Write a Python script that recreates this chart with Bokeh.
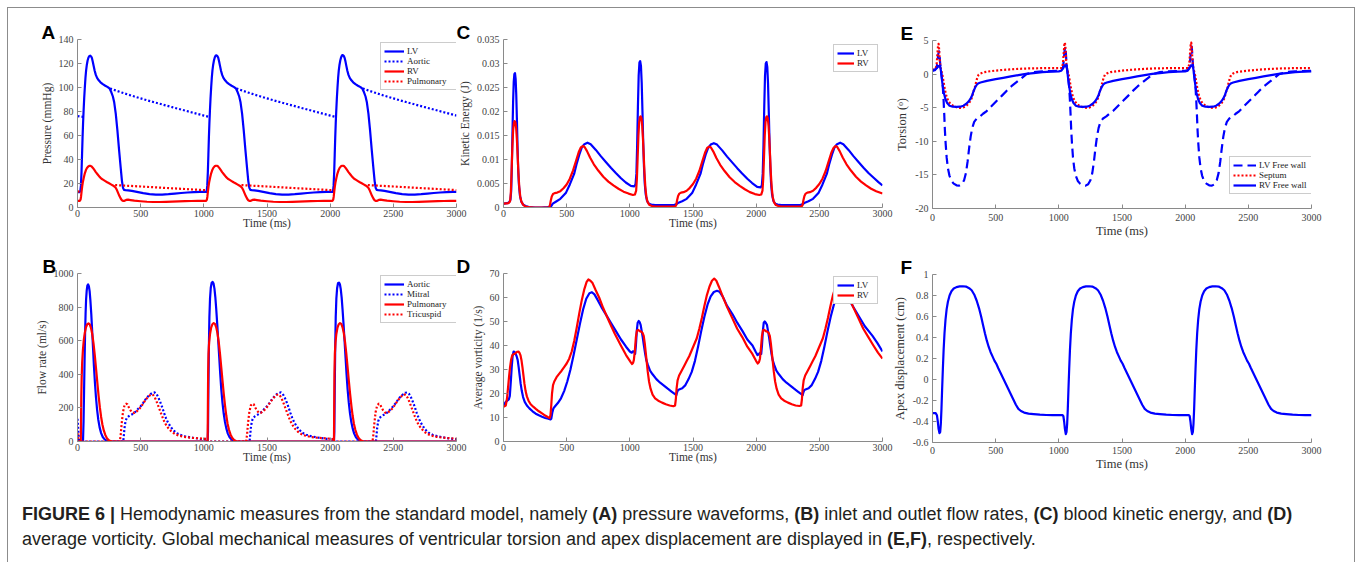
import numpy as np
from bokeh.plotting import figure
from bokeh.models import (Range1d, FixedTicker, PrintfTickFormatter, Legend, LegendItem, Div)
from bokeh.layouts import column
from bokeh.embed import file_html
from bokeh.resources import INLINE

# ---------------------------------------------------------------- data
TIME_TICKS = [0, 500, 1000, 1500, 2000, 2500, 3000]

# (A) pressure waveforms, mmHg
PRESSURE_TICKS = [0, 20, 40, 60, 80, 100, 120, 140]
lv_pressure = [
    (0, 12.8), (15, 12.8), (22, 13.5), (27, 18), (32, 30), (36, 44), (40, 58), (44, 70), (48, 80), (53, 91),
    (58, 100), (63, 108), (68, 114), (74, 119), (80, 122.5), (87, 125), (94, 126.3), (100, 126.5), (107, 126),
    (114, 124.5), (121, 121.5), (128, 118), (136, 114), (145, 110.5), (155, 108), (168, 106), (182, 104.3),
    (200, 102.8), (220, 101.5), (240, 100.3), (255, 99), (268, 96), (280, 92.5), (290, 88), (303, 78), (316, 64),
    (329, 48), (342, 33), (352, 22), (360, 16.5), (368, 14.7), (380, 14.5), (400, 14.3), (430, 13.8), (470, 13),
    (520, 12), (570, 11.2), (620, 10.8), (670, 10.8), (720, 11.1), (770, 11.6), (820, 12.1), (870, 12.5),
    (920, 12.8), (970, 13),
    (1022, 13.1), (1027, 18), (1032, 30), (1036, 44), (1040, 58), (1044, 70), (1048, 80), (1053, 91), (1058, 100),
    (1063, 108), (1068, 114), (1074, 119), (1080, 122.5), (1087, 125.2), (1094, 126.6), (1100, 126.8),
    (1107, 126.2), (1114, 124.7), (1121, 121.7), (1128, 118), (1136, 114), (1145, 110.5), (1155, 108),
    (1168, 106), (1182, 104.3), (1200, 102.8), (1220, 101.5), (1240, 100.3), (1255, 99), (1268, 96),
    (1280, 92.5), (1290, 88), (1303, 78), (1316, 64), (1329, 48), (1342, 33), (1352, 22), (1360, 16.5),
    (1368, 14.7), (1380, 14.5), (1400, 14.3), (1430, 13.8), (1470, 13), (1520, 12), (1570, 11.2), (1620, 10.8),
    (1670, 10.8), (1720, 11.1), (1770, 11.6), (1820, 12.1), (1870, 12.5), (1920, 12.8), (1970, 13),
    (2022, 13.1), (2027, 18), (2032, 30), (2036, 44), (2040, 58), (2044, 70), (2048, 80), (2053, 91), (2058, 100),
    (2063, 108), (2068, 114), (2074, 119), (2080, 122.5), (2087, 125.3), (2094, 126.8), (2100, 127),
    (2107, 126.4), (2114, 124.8), (2121, 121.8), (2128, 118), (2136, 114), (2145, 110.5), (2155, 108),
    (2168, 106), (2182, 104.3), (2200, 102.8), (2220, 101.5), (2240, 100.3), (2255, 99), (2268, 96),
    (2280, 92.5), (2290, 88), (2303, 78), (2316, 64), (2329, 48), (2342, 33), (2352, 22), (2360, 16.5),
    (2368, 14.7), (2380, 14.5), (2400, 14.3), (2430, 13.8), (2470, 13), (2520, 12), (2570, 11.2), (2620, 10.8),
    (2670, 10.8), (2720, 11.1), (2770, 11.6), (2820, 12.1), (2870, 12.5), (2920, 12.8), (2970, 13), (3000, 13.1)]

aortic_pressure = [
    (0, 76.2), (15, 76), (30, 75.7), (44, 75.5), None,
    (258, 99.2), (300, 97.6), (350, 95.8), (400, 94.1), (450, 92.5), (500, 90.9), (550, 89.4), (600, 87.9),
    (650, 86.5), (700, 85), (750, 83.6), (800, 82.2), (850, 80.8), (900, 79.4), (950, 78), (1000, 76.6),
    (1044, 75.4), None,
    (1258, 99.2), (1300, 97.6), (1350, 95.8), (1400, 94.1), (1450, 92.5), (1500, 90.9), (1550, 89.4),
    (1600, 87.9), (1650, 86.5), (1700, 85), (1750, 83.6), (1800, 82.2), (1850, 80.8), (1900, 79.4), (1950, 78),
    (2000, 76.6), (2044, 75.4), None,
    (2258, 99.2), (2300, 97.6), (2350, 95.8), (2400, 94.1), (2450, 92.5), (2500, 90.9), (2550, 89.4),
    (2600, 87.9), (2650, 86.5), (2700, 85), (2750, 83.6), (2800, 82.2), (2850, 80.8), (2900, 79.4), (2950, 78),
    (3000, 76.6)]

rv_pressure = [
    (0, 5.6), (18, 5.6), (24, 6.5), (28, 9), (32, 13), (37, 17.5), (43, 21.5), (50, 25), (58, 28.5), (66, 31),
    (75, 33), (85, 34.2), (95, 34.7), (103, 34.7), (112, 34.2), (122, 33), (132, 31.5), (145, 29.5), (160, 27.5),
    (175, 25.5), (190, 24), (205, 23), (220, 22), (235, 21), (250, 20.2), (265, 19.3), (280, 18.4), (292, 17.5),
    (302, 16.5), (312, 14.5), (322, 12), (332, 9.5), (342, 7.5), (352, 6), (362, 5.5), (372, 5.6), (385, 6.3),
    (400, 6.5), (420, 6.2), (450, 5.7), (500, 5.2), (550, 4.8), (600, 4.6), (650, 4.6), (700, 4.7), (750, 4.9),
    (800, 5.1), (850, 5.3), (900, 5.4), (950, 5.5), (1000, 5.6),
    (1018, 5.6), (1024, 6.5), (1028, 9), (1032, 13), (1037, 17.5), (1043, 21.5), (1050, 25), (1058, 28.5),
    (1066, 31), (1075, 33), (1085, 34.3), (1095, 34.8), (1103, 34.8), (1112, 34.3), (1122, 33), (1132, 31.5),
    (1145, 29.5), (1160, 27.5), (1175, 25.5), (1190, 24), (1205, 23), (1220, 22), (1235, 21), (1250, 20.2),
    (1265, 19.3), (1280, 18.4), (1292, 17.5), (1302, 16.5), (1312, 14.5), (1322, 12), (1332, 9.5), (1342, 7.5),
    (1352, 6), (1362, 5.5), (1372, 5.6), (1385, 6.3), (1400, 6.5), (1420, 6.2), (1450, 5.7), (1500, 5.2),
    (1550, 4.8), (1600, 4.6), (1650, 4.6), (1700, 4.7), (1750, 4.9), (1800, 5.1), (1850, 5.3), (1900, 5.4),
    (1950, 5.5), (2000, 5.6),
    (2018, 5.6), (2024, 6.5), (2028, 9), (2032, 13), (2037, 17.5), (2043, 21.5), (2050, 25), (2058, 28.5),
    (2066, 31), (2075, 33), (2085, 34.3), (2095, 34.8), (2103, 34.8), (2112, 34.3), (2122, 33), (2132, 31.5),
    (2145, 29.5), (2160, 27.5), (2175, 25.5), (2190, 24), (2205, 23), (2220, 22), (2235, 21), (2250, 20.2),
    (2265, 19.3), (2280, 18.4), (2292, 17.5), (2302, 16.5), (2312, 14.5), (2322, 12), (2332, 9.5), (2342, 7.5),
    (2352, 6), (2362, 5.5), (2372, 5.6), (2385, 6.3), (2400, 6.5), (2420, 6.2), (2450, 5.7), (2500, 5.2),
    (2550, 4.8), (2600, 4.6), (2650, 4.6), (2700, 4.7), (2750, 4.9), (2800, 5.1), (2850, 5.3), (2900, 5.4),
    (2950, 5.5), (3000, 5.6)]

pulmonary_pressure = [
    (0, 13.4), (15, 13.3), (30, 13.2), None,
    (298, 18.7), (350, 18.4), (400, 18.1), (450, 17.8), (500, 17.5), (550, 17.2), (600, 16.9), (650, 16.6),
    (700, 16.3), (750, 16), (800, 15.7), (850, 15.4), (900, 15.1), (950, 14.8), (1000, 14.5), (1033, 14.3), None,
    (1298, 18.7), (1350, 18.4), (1400, 18.1), (1450, 17.8), (1500, 17.5), (1550, 17.2), (1600, 16.9),
    (1650, 16.6), (1700, 16.3), (1750, 16), (1800, 15.7), (1850, 15.4), (1900, 15.1), (1950, 14.8), (2000, 14.5),
    (2033, 14.3), None,
    (2298, 18.7), (2350, 18.4), (2400, 18.1), (2450, 17.8), (2500, 17.5), (2550, 17.2), (2600, 16.9),
    (2650, 16.6), (2700, 16.3), (2750, 16), (2800, 15.7), (2850, 15.4), (2900, 15.1), (2950, 14.8), (3000, 14.5)]

# (B) valve flow rates, ml/s
FLOW_TICKS = [0, 200, 400, 600, 800, 1000]
aortic_flow = [
    (0, 0), (40, 0), (44, 10), (48, 120), (52, 300), (56, 480), (60, 640), (64, 760), (68, 845), (73, 900),
    (78, 928), (84, 935), (90, 925), (96, 895), (102, 840), (109, 760), (116, 660), (123, 555), (130, 450),
    (138, 350), (146, 265), (155, 190), (165, 128), (175, 84), (187, 50), (200, 27), (215, 13), (230, 5),
    (245, 1), (258, 0),
    (1030, 0), (1033, 60), (1036, 300), (1040, 560), (1044, 740), (1049, 850), (1055, 915), (1062, 945),
    (1070, 950), (1077, 940), (1084, 910), (1091, 860), (1098, 790), (1106, 700), (1114, 600), (1122, 500),
    (1130, 400), (1138, 312), (1147, 235), (1157, 168), (1167, 118), (1178, 78), (1190, 47), (1204, 25),
    (1220, 11), (1236, 4), (1250, 0),
    (2030, 0), (2033, 60), (2036, 300), (2040, 560), (2044, 740), (2049, 850), (2055, 912), (2062, 942),
    (2070, 946), (2077, 936), (2084, 906), (2091, 856), (2098, 786), (2106, 697), (2114, 598), (2122, 498),
    (2130, 398), (2138, 311), (2147, 234), (2157, 167), (2167, 117), (2178, 78), (2190, 47), (2204, 25),
    (2220, 11), (2236, 4), (2250, 0), (3000, 0)]

mitral_flow = [
    (0, 135), (4, 95), (8, 45), (12, 12), (16, 0),
    (362, 0), (366, 30), (372, 80), (380, 120), (390, 140), (405, 150), (420, 157), (440, 165), (460, 178),
    (480, 195), (500, 210), (520, 230), (540, 252), (560, 270), (580, 283), (595, 290), (610, 292), (625, 283),
    (640, 262), (655, 235), (670, 205), (685, 170), (700, 140), (715, 115), (735, 90), (755, 70), (780, 52),
    (810, 40), (850, 31), (890, 25), (930, 20), (970, 16), (1000, 14), (1022, 12), (1027, 0),
    (1362, 0), (1366, 30), (1372, 80), (1380, 120), (1390, 140), (1405, 150), (1420, 157), (1440, 165),
    (1460, 178), (1480, 195), (1500, 210), (1520, 230), (1540, 252), (1560, 270), (1580, 283), (1595, 290),
    (1610, 292), (1625, 283), (1640, 262), (1655, 235), (1670, 205), (1685, 170), (1700, 140), (1715, 115),
    (1735, 90), (1755, 70), (1780, 52), (1810, 40), (1850, 31), (1890, 25), (1930, 20), (1970, 16), (2000, 14),
    (2022, 12), (2027, 0),
    (2362, 0), (2366, 30), (2372, 80), (2380, 120), (2390, 140), (2405, 150), (2420, 157), (2440, 165),
    (2460, 178), (2480, 195), (2500, 210), (2520, 230), (2540, 252), (2560, 270), (2580, 283), (2595, 290),
    (2610, 292), (2625, 283), (2640, 262), (2655, 235), (2670, 205), (2685, 170), (2700, 140), (2715, 115),
    (2735, 90), (2755, 70), (2780, 52), (2810, 40), (2850, 31), (2890, 25), (2930, 20), (2970, 16), (3000, 14)]

pulmonary_flow = [
    (0, 0), (26, 0), (28, 120), (30, 260), (33, 380), (37, 470), (43, 545), (50, 605), (58, 648), (67, 680),
    (77, 698), (87, 703), (97, 697), (107, 675), (117, 638), (127, 583), (137, 512), (147, 432), (157, 350),
    (167, 272), (177, 203), (187, 146), (197, 101), (208, 66), (220, 39), (233, 20), (248, 8), (262, 2), (275, 0),
    (1030, 0), (1032, 200), (1034, 400), (1037, 520), (1042, 590), (1049, 640), (1058, 678), (1068, 698),
    (1078, 705), (1088, 700), (1098, 680), (1108, 645), (1118, 592), (1128, 522), (1138, 442), (1148, 360),
    (1158, 282), (1168, 212), (1178, 153), (1188, 106), (1199, 70), (1211, 42), (1224, 22), (1239, 9),
    (1254, 3), (1268, 0),
    (2030, 0), (2032, 200), (2034, 400), (2037, 520), (2042, 590), (2049, 640), (2058, 678), (2068, 698),
    (2078, 705), (2088, 700), (2098, 680), (2108, 645), (2118, 592), (2128, 522), (2138, 442), (2148, 360),
    (2158, 282), (2168, 212), (2178, 153), (2188, 106), (2199, 70), (2211, 42), (2224, 22), (2239, 9),
    (2254, 3), (2268, 0), (3000, 0)]

tricuspid_flow = [
    (0, 50), (5, 20), (10, 0),
    (335, 0), (342, 40), (350, 110), (360, 175), (372, 215), (385, 225), (395, 222), (405, 205), (420, 185),
    (435, 172), (450, 170), (470, 180), (490, 195), (510, 215), (530, 238), (550, 258), (565, 270), (578, 278),
    (590, 280), (600, 276), (612, 262), (625, 240), (640, 210), (655, 180), (670, 150), (685, 122), (700, 100),
    (720, 78), (745, 58), (770, 45), (800, 36), (840, 28), (880, 24), (920, 21), (960, 19), (1000, 17),
    (1020, 15), (1024, 0),
    (1335, 0), (1342, 40), (1350, 110), (1360, 175), (1372, 215), (1385, 225), (1395, 222), (1405, 205),
    (1420, 185), (1435, 172), (1450, 170), (1470, 180), (1490, 195), (1510, 215), (1530, 238), (1550, 258),
    (1565, 270), (1578, 278), (1590, 280), (1600, 276), (1612, 262), (1625, 240), (1640, 210), (1655, 180),
    (1670, 150), (1685, 122), (1700, 100), (1720, 78), (1745, 58), (1770, 45), (1800, 36), (1840, 28),
    (1880, 24), (1920, 21), (1960, 19), (2000, 17), (2020, 15), (2024, 0),
    (2335, 0), (2342, 40), (2350, 110), (2360, 175), (2372, 215), (2385, 225), (2395, 222), (2405, 205),
    (2420, 185), (2435, 172), (2450, 170), (2470, 180), (2490, 195), (2510, 215), (2530, 238), (2550, 258),
    (2565, 270), (2578, 278), (2590, 280), (2600, 276), (2612, 262), (2625, 240), (2640, 210), (2655, 180),
    (2670, 150), (2685, 122), (2700, 100), (2720, 78), (2745, 58), (2770, 45), (2800, 36), (2840, 28),
    (2880, 24), (2920, 21), (2960, 19), (3000, 16)]

# (C) blood kinetic energy, J
ENERGY_TICKS = [0, 0.005, 0.01, 0.015, 0.02, 0.025, 0.03, 0.035]
lv_energy = [
    (0, 0.0008), (30, 0.0009), (45, 0.0011), (55, 0.0016), (61, 0.0035), (66, 0.0085), (71, 0.0155),
    (76, 0.022), (81, 0.0262), (86, 0.0278), (91, 0.028), (96, 0.0268), (101, 0.0235), (106, 0.0185),
    (111, 0.0128), (116, 0.0082), (122, 0.0048), (130, 0.0025), (140, 0.0013), (155, 0.0006), (175, 0.0003),
    (200, 0.0001), (250, 0.0), (300, 0.0), (350, 0.0001), (375, 0.0002), (390, 0.0008), (414, 0.0012),
    (450, 0.0018), (493, 0.003), (525, 0.0048), (559, 0.007), (580, 0.0092), (600, 0.011), (620, 0.0125),
    (640, 0.0132), (665, 0.0135), (690, 0.0132), (731, 0.012), (770, 0.0107), (810, 0.0095), (850, 0.0083),
    (889, 0.0072), (930, 0.0061), (968, 0.0052), (1008, 0.0045), (1035, 0.0044),
    (1045, 0.0048), (1052, 0.007), (1058, 0.013), (1064, 0.021), (1070, 0.0275), (1076, 0.0302),
    (1082, 0.0305), (1088, 0.0295), (1094, 0.026), (1100, 0.02), (1106, 0.0135), (1112, 0.0085),
    (1118, 0.005), (1126, 0.0027), (1136, 0.0014), (1150, 0.0008), (1170, 0.0006), (1200, 0.0005),
    (1250, 0.0005), (1300, 0.0005), (1350, 0.0005), (1370, 0.0007), (1385, 0.001), (1414, 0.0013),
    (1450, 0.0018), (1493, 0.003), (1525, 0.0048), (1559, 0.007), (1580, 0.0092), (1600, 0.011),
    (1620, 0.0124), (1640, 0.0131), (1665, 0.0134), (1690, 0.0131), (1731, 0.0119), (1770, 0.0106),
    (1810, 0.0094), (1850, 0.0082), (1889, 0.0071), (1930, 0.006), (1968, 0.0051), (2008, 0.0043),
    (2035, 0.0042),
    (2045, 0.0046), (2052, 0.007), (2058, 0.013), (2064, 0.021), (2070, 0.0274), (2076, 0.03), (2082, 0.0303),
    (2088, 0.0293), (2094, 0.0258), (2100, 0.0198), (2106, 0.0134), (2112, 0.0085), (2118, 0.005),
    (2126, 0.0027), (2136, 0.0014), (2150, 0.0008), (2170, 0.0006), (2200, 0.0005), (2250, 0.0005),
    (2300, 0.0005), (2350, 0.0005), (2370, 0.0007), (2385, 0.001), (2414, 0.0013), (2450, 0.0018),
    (2493, 0.003), (2525, 0.0048), (2559, 0.007), (2580, 0.0092), (2600, 0.011), (2620, 0.0125),
    (2640, 0.0132), (2665, 0.0135), (2690, 0.0132), (2731, 0.012), (2770, 0.0107), (2810, 0.0095),
    (2850, 0.0083), (2889, 0.0072), (2930, 0.0062), (2968, 0.0053), (3000, 0.0046)]

rv_energy = [
    (0, 0.0008), (40, 0.0009), (52, 0.0013), (58, 0.003), (64, 0.0075), (70, 0.0125), (76, 0.016),
    (82, 0.0176), (88, 0.018), (94, 0.0178), (100, 0.0166), (106, 0.0142), (112, 0.0108), (118, 0.0072),
    (125, 0.0042), (133, 0.0022), (143, 0.0011), (158, 0.0005), (175, 0.0002), (200, 0.0001), (240, 0.0),
    (300, 0.0), (360, 0.0), (367, 0.0004), (374, 0.0014), (382, 0.0023), (392, 0.0028), (405, 0.003),
    (425, 0.0031), (450, 0.0034), (475, 0.004), (500, 0.0048), (525, 0.006), (550, 0.0077), (575, 0.0098),
    (595, 0.0115), (612, 0.0125), (628, 0.0128), (642, 0.0126), (660, 0.0118), (685, 0.0104), (715, 0.009),
    (750, 0.0077), (790, 0.0064), (830, 0.0054), (870, 0.0046), (910, 0.0039), (950, 0.0033), (990, 0.0029),
    (1025, 0.0026),
    (1040, 0.0027), (1050, 0.0035), (1056, 0.006), (1062, 0.0105), (1068, 0.015), (1074, 0.0178),
    (1080, 0.0188), (1086, 0.019), (1092, 0.0186), (1098, 0.017), (1104, 0.0143), (1110, 0.0108),
    (1116, 0.0072), (1123, 0.0042), (1131, 0.0022), (1141, 0.0011), (1156, 0.0005), (1175, 0.0003),
    (1200, 0.0002), (1300, 0.0002), (1360, 0.0002), (1367, 0.0005), (1374, 0.0015), (1382, 0.0024),
    (1392, 0.0029), (1405, 0.0031), (1425, 0.0032), (1450, 0.0035), (1475, 0.0041), (1500, 0.0049),
    (1525, 0.006), (1550, 0.0076), (1575, 0.0097), (1595, 0.0114), (1612, 0.0124), (1628, 0.0127),
    (1642, 0.0125), (1660, 0.0117), (1685, 0.0103), (1715, 0.0089), (1750, 0.0076), (1790, 0.0063),
    (1830, 0.0053), (1870, 0.0045), (1910, 0.0038), (1950, 0.0032), (1990, 0.0028), (2025, 0.0026),
    (2040, 0.0027), (2050, 0.0035), (2056, 0.006), (2062, 0.0105), (2068, 0.015), (2074, 0.0178),
    (2080, 0.0188), (2086, 0.019), (2092, 0.0186), (2098, 0.017), (2104, 0.0143), (2110, 0.0108),
    (2116, 0.0072), (2123, 0.0042), (2131, 0.0022), (2141, 0.0011), (2156, 0.0005), (2175, 0.0003),
    (2200, 0.0002), (2300, 0.0002), (2360, 0.0002), (2367, 0.0005), (2374, 0.0015), (2382, 0.0024),
    (2392, 0.0029), (2405, 0.0031), (2425, 0.0032), (2450, 0.0035), (2475, 0.0041), (2500, 0.0049),
    (2525, 0.006), (2550, 0.0076), (2575, 0.0097), (2595, 0.0114), (2612, 0.0124), (2628, 0.0128),
    (2642, 0.0126), (2660, 0.0118), (2685, 0.0104), (2715, 0.009), (2750, 0.0077), (2790, 0.0064),
    (2830, 0.0054), (2870, 0.0046), (2910, 0.0039), (2950, 0.0034), (3000, 0.0029)]

# (D) average vorticity, 1/s
VORTICITY_TICKS = [0, 10, 20, 30, 40, 50, 60, 70]
lv_vorticity = [
    (0, 15), (18, 16.5), (42, 17.5), (50, 19), (58, 25), (65, 31), (72, 35.5), (80, 37.5), (88, 37.3),
    (96, 36.5), (104, 35.5), (112, 34), (120, 31), (128, 27.5), (136, 24), (145, 21), (155, 18.5), (168, 16.5),
    (185, 15), (205, 13.8), (230, 12.6), (255, 11.6), (280, 10.9), (305, 10.3), (330, 9.8), (355, 9.5),
    (372, 9.2), (378, 9.5), (386, 12), (395, 13.8), (410, 14.8), (430, 16), (455, 18), (480, 21), (505, 25),
    (530, 30), (555, 36), (580, 42.5), (605, 49), (630, 55), (655, 59.5), (680, 61.8), (700, 62.2),
    (720, 61.3), (745, 59), (775, 56), (810, 53), (850, 49.5), (890, 46), (930, 42.5), (970, 39.5),
    (1000, 37.5), (1015, 37), (1025, 37.6), (1035, 37.5), (1042, 36.5), (1048, 40), (1055, 46), (1062, 49.5),
    (1070, 50.2), (1078, 49.7), (1086, 48.5), (1094, 46), (1102, 43.5), (1110, 40.5), (1120, 37), (1130, 34),
    (1142, 32), (1160, 29.5), (1180, 28), (1210, 26), (1240, 24.5), (1270, 23.3), (1300, 22), (1330, 20.8),
    (1355, 19.8), (1368, 19.3), (1374, 20.5), (1382, 21.5), (1395, 21.8), (1415, 22.2), (1440, 23.5),
    (1465, 26), (1490, 29), (1515, 33.5), (1540, 39.5), (1565, 46), (1590, 52), (1615, 57), (1640, 60.5),
    (1665, 62.3), (1690, 62.8), (1710, 62.4), (1734, 60.5), (1770, 56.5), (1813, 53), (1850, 49.5),
    (1892, 46), (1930, 42.5), (1971, 40), (1995, 37.5), (2011, 36), (2022, 36.5), (2032, 37), (2040, 36.5),
    (2046, 40), (2053, 46), (2060, 49.5), (2068, 50), (2076, 49.5), (2086, 48.5), (2094, 46), (2102, 43.5),
    (2110, 40.5), (2120, 37), (2130, 34), (2142, 32), (2160, 29.5), (2180, 28), (2210, 26), (2240, 24.5),
    (2270, 23.3), (2300, 22), (2330, 20.8), (2355, 19.8), (2368, 19.3), (2374, 20.5), (2382, 21.5),
    (2395, 21.8), (2415, 22.2), (2440, 23.5), (2465, 26), (2490, 29), (2515, 33.5), (2540, 39.5), (2565, 46),
    (2590, 52), (2615, 57), (2640, 60.5), (2665, 62.2), (2690, 62.6), (2710, 62), (2736, 59), (2775, 55.5),
    (2815, 52), (2860, 48), (2921, 44), (2960, 41), (3000, 37.5)]

rv_vorticity = [
    (0, 14.5), (18, 15), (28, 18), (36, 22.5), (44, 27), (52, 31), (60, 34), (70, 36), (80, 36.4), (90, 36.6),
    (100, 37), (110, 37.4), (118, 37.5), (126, 37), (134, 36), (142, 34), (150, 31), (158, 27.5), (166, 24),
    (175, 21), (185, 18.8), (198, 17), (215, 15.5), (235, 14.5), (258, 13.5), (280, 12.6), (305, 11.7),
    (330, 10.8), (350, 10.2), (365, 9.8), (372, 11), (378, 15), (384, 20), (392, 23.5), (402, 25), (420, 26.8),
    (440, 28.2), (460, 29.5), (480, 31), (500, 32.5), (520, 34.5), (540, 37.5), (560, 42), (580, 47.5),
    (600, 53.5), (620, 59), (640, 63.5), (658, 66.5), (672, 67.5), (688, 67), (705, 66), (730, 63),
    (757, 60), (790, 55.5), (836, 50), (880, 45), (929, 40), (970, 36), (1008, 33), (1018, 32.3),
    (1026, 32.8), (1032, 34), (1040, 38), (1048, 43.5), (1056, 46.2), (1066, 46.5), (1078, 46), (1090, 45.8),
    (1100, 45.3), (1110, 44), (1118, 41), (1126, 37), (1134, 33), (1142, 29), (1152, 25), (1164, 22),
    (1180, 19.5), (1200, 18), (1225, 17), (1255, 16.2), (1285, 15.5), (1315, 15), (1345, 14.7), (1358, 15),
    (1364, 17.5), (1370, 22), (1378, 25.5), (1390, 27.5), (1410, 29.5), (1430, 31.5), (1450, 33.5),
    (1470, 35.5), (1490, 38), (1510, 40.5), (1530, 43), (1550, 47), (1570, 51.5), (1590, 56.5), (1610, 61),
    (1630, 64.5), (1650, 67), (1668, 67.9), (1685, 67), (1705, 64.5), (1735, 60.5), (1770, 56), (1810, 51.5),
    (1850, 47), (1890, 43.5), (1930, 39.5), (1970, 36.5), (2000, 33.5), (2012, 32.5), (2022, 33),
    (2030, 34.5), (2038, 39), (2046, 44), (2054, 46.3), (2064, 46.5), (2076, 46), (2088, 45.8), (2098, 45.3),
    (2108, 44), (2116, 41), (2124, 37), (2132, 33), (2140, 29), (2150, 25), (2162, 22), (2178, 19.5),
    (2198, 18), (2222, 17), (2252, 16.2), (2282, 15.5), (2312, 15), (2342, 14.8), (2356, 15), (2362, 17.5),
    (2368, 22), (2376, 25.5), (2388, 27.5), (2408, 29.5), (2428, 31.5), (2448, 33.5), (2468, 35.5),
    (2488, 38), (2508, 40.5), (2528, 43), (2548, 47), (2568, 51.5), (2588, 56.5), (2608, 61), (2628, 64.5),
    (2648, 67), (2666, 67.9), (2683, 67), (2703, 64.5), (2733, 60.5), (2768, 56), (2808, 51.5), (2848, 47),
    (2888, 43.5), (2928, 40), (2964, 37), (3000, 34.5)]

# (E) torsion, degrees
TORSION_TICKS = [-20, -15, -10, -5, 0, 5]
lv_free_wall = [
    (0, 0.5), (20, 0.6), (33, 1), (40, 2), (46, 3), (52, 3.4), (57, 2.6), (62, 1.2), (67, 0.6), (74, -0.4),
    (82, -2), (88, -4), (93, -6), (98, -8.3), (104, -10.3), (112, -12.4), (122, -14), (134, -15.1),
    (150, -15.9), (168, -16.3), (190, -16.55), (212, -16.6), (232, -16.4), (250, -15.8), (265, -14.7),
    (278, -13), (290, -11), (302, -9.3), (315, -8), (330, -7.1), (350, -6.6), (376, -6.3), (400, -5.9),
    (429, -5.5), (470, -4.7), (507, -4), (550, -3.2), (586, -2.5), (625, -1.8), (665, -1.2), (705, -0.6),
    (744, 0), (800, 0.3), (870, 0.4), (940, 0.45), (1000, 0.5),
    (1020, 0.6), (1033, 1), (1040, 2.2), (1046, 3.6), (1052, 4.1), (1057, 2.8), (1062, 1.2), (1067, 0.6),
    (1074, -0.4), (1082, -2), (1088, -4), (1093, -6), (1098, -8.3), (1104, -10.3), (1112, -12.4),
    (1122, -14), (1134, -15.1), (1150, -15.9), (1168, -16.3), (1190, -16.55), (1212, -16.6), (1232, -16.4),
    (1250, -15.8), (1265, -14.7), (1278, -13), (1290, -11), (1302, -9.3), (1315, -8), (1330, -7.1),
    (1350, -6.6), (1376, -6.3), (1400, -5.9), (1429, -5.5), (1470, -4.7), (1507, -4), (1550, -3.2),
    (1586, -2.5), (1625, -1.8), (1665, -1.2), (1705, -0.6), (1744, 0), (1800, 0.3), (1870, 0.4),
    (1940, 0.45), (2000, 0.5),
    (2020, 0.6), (2033, 1), (2040, 2.2), (2046, 3.6), (2052, 4.1), (2057, 2.8), (2062, 1.2), (2067, 0.6),
    (2074, -0.4), (2082, -2), (2088, -4), (2093, -6), (2098, -8.3), (2104, -10.3), (2112, -12.4),
    (2122, -14), (2134, -15.1), (2150, -15.9), (2168, -16.3), (2190, -16.55), (2212, -16.6), (2232, -16.4),
    (2250, -15.8), (2265, -14.7), (2278, -13), (2290, -11), (2302, -9.3), (2315, -8), (2330, -7.1),
    (2350, -6.6), (2376, -6.3), (2400, -5.9), (2429, -5.5), (2470, -4.7), (2507, -4), (2550, -3.2),
    (2586, -2.5), (2625, -1.8), (2665, -1.2), (2705, -0.6), (2744, 0), (2800, 0.3), (2870, 0.4),
    (2940, 0.45), (3000, 0.5)]

septum = [
    (0, 0.6), (25, 0.8), (33, 1.5), (39, 3), (44, 4.2), (48, 4.5), (52, 3.8), (57, 2.2), (63, 1), (70, 0.5),
    (80, -0.3), (88, -1.2), (98, -2.3), (110, -3.3), (125, -4), (145, -4.5), (170, -4.8), (200, -5),
    (230, -5.05), (245, -4.95), (265, -4.75), (285, -4.4), (300, -4), (312, -3.5), (323, -2.7), (335, -2),
    (345, -1.2), (355, -0.5), (365, -0.1), (380, 0.1), (410, 0.3), (455, 0.42), (500, 0.52), (560, 0.62),
    (613, 0.7), (680, 0.78), (770, 0.85), (860, 0.88), (940, 0.9), (1000, 0.9),
    (1025, 0.9), (1033, 1.6), (1039, 3.2), (1044, 4.4), (1048, 4.7), (1052, 3.9), (1057, 2.2), (1063, 1),
    (1070, 0.5), (1080, -0.3), (1088, -1.2), (1098, -2.3), (1110, -3.3), (1125, -4), (1145, -4.5),
    (1170, -4.8), (1200, -5), (1230, -5.05), (1245, -4.95), (1265, -4.75), (1285, -4.4), (1300, -4),
    (1312, -3.5), (1323, -2.7), (1335, -2), (1345, -1.2), (1355, -0.5), (1365, -0.1), (1380, 0.1),
    (1410, 0.3), (1455, 0.42), (1500, 0.52), (1560, 0.62), (1613, 0.7), (1680, 0.78), (1770, 0.85),
    (1860, 0.88), (1940, 0.9), (2000, 0.9),
    (2025, 0.9), (2033, 1.6), (2039, 3.2), (2044, 4.4), (2048, 4.7), (2052, 3.9), (2057, 2.2), (2063, 1),
    (2070, 0.5), (2080, -0.3), (2088, -1.2), (2098, -2.3), (2110, -3.3), (2125, -4), (2145, -4.5),
    (2170, -4.8), (2200, -5), (2230, -5.05), (2245, -4.95), (2265, -4.75), (2285, -4.4), (2300, -4),
    (2312, -3.5), (2323, -2.7), (2335, -2), (2345, -1.2), (2355, -0.5), (2365, -0.1), (2380, 0.1),
    (2410, 0.3), (2455, 0.42), (2500, 0.52), (2560, 0.62), (2613, 0.7), (2680, 0.78), (2770, 0.85),
    (2860, 0.88), (2940, 0.9), (3000, 0.9)]

rv_free_wall = [
    (0, 0.5), (20, 0.7), (35, 0.9), (45, 1.2), (52, 1.1), (60, 1.3), (66, 0.6), (72, -0.4), (80, -1.6),
    (90, -2.8), (102, -3.7), (116, -4.3), (135, -4.7), (160, -4.85), (190, -4.88), (220, -4.85), (245, -4.7),
    (265, -4.45), (285, -4.1), (300, -3.7), (315, -3.1), (328, -2.4), (340, -1.9), (352, -1.55), (365, -1.35),
    (380, -1.25), (430, -1), (500, -0.75), (560, -0.55), (620, -0.35), (680, -0.15), (740, 0.03), (800, 0.15),
    (870, 0.28), (940, 0.36), (1000, 0.4),
    (1020, 0.5), (1035, 0.9), (1045, 1.3), (1052, 1.2), (1060, 1.4), (1066, 0.6), (1072, -0.4), (1080, -1.6),
    (1090, -2.8), (1102, -3.7), (1116, -4.3), (1135, -4.7), (1160, -4.85), (1190, -4.88), (1220, -4.85),
    (1245, -4.7), (1265, -4.45), (1285, -4.1), (1300, -3.7), (1315, -3.1), (1328, -2.4), (1340, -1.9),
    (1352, -1.55), (1365, -1.35), (1380, -1.25), (1430, -1), (1500, -0.75), (1560, -0.55), (1620, -0.35),
    (1680, -0.15), (1740, 0.03), (1800, 0.15), (1870, 0.28), (1940, 0.36), (2000, 0.4),
    (2020, 0.5), (2035, 0.9), (2045, 1.3), (2052, 1.2), (2060, 1.4), (2066, 0.6), (2072, -0.4), (2080, -1.6),
    (2090, -2.8), (2102, -3.7), (2116, -4.3), (2135, -4.7), (2160, -4.85), (2190, -4.88), (2220, -4.85),
    (2245, -4.7), (2265, -4.45), (2285, -4.1), (2300, -3.7), (2315, -3.1), (2328, -2.4), (2340, -1.9),
    (2352, -1.55), (2365, -1.35), (2380, -1.25), (2430, -1), (2500, -0.75), (2560, -0.55), (2620, -0.35),
    (2680, -0.15), (2740, 0.03), (2800, 0.15), (2870, 0.28), (2940, 0.36), (3000, 0.4)]

# (F) apex displacement, cm
APEX_TICKS = [-0.6, -0.4, -0.2, 0, 0.2, 0.4, 0.6, 0.8, 1]
apex_displacement = [
    (0, -0.32), (25, -0.32), (35, -0.34), (42, -0.4), (48, -0.47), (55, -0.51), (61, -0.5), (66, -0.42),
    (71, -0.28), (76, -0.1), (82, 0.1), (88, 0.28), (95, 0.44), (103, 0.57), (112, 0.67), (122, 0.74),
    (135, 0.8), (150, 0.84), (168, 0.866), (190, 0.88), (215, 0.887), (240, 0.888), (265, 0.885), (290, 0.87),
    (310, 0.85), (330, 0.81), (350, 0.75), (368, 0.68), (385, 0.6), (400, 0.52), (415, 0.44), (430, 0.37),
    (445, 0.31), (460, 0.26), (475, 0.22), (490, 0.18), (505, 0.15), (520, 0.11), (540, 0.06), (560, 0.01),
    (580, -0.04), (600, -0.09), (620, -0.14), (640, -0.19), (660, -0.24), (680, -0.28), (700, -0.3),
    (725, -0.315), (760, -0.325), (800, -0.33), (850, -0.335), (900, -0.338), (950, -0.34), (1000, -0.34),
    (1030, -0.34), (1036, -0.35), (1042, -0.4), (1048, -0.47), (1055, -0.52), (1061, -0.5), (1066, -0.42),
    (1071, -0.28), (1076, -0.1), (1082, 0.1), (1088, 0.28), (1095, 0.44), (1103, 0.57), (1112, 0.67),
    (1122, 0.74), (1135, 0.8), (1150, 0.84), (1168, 0.866), (1190, 0.88), (1215, 0.887), (1240, 0.888),
    (1265, 0.885), (1290, 0.87), (1310, 0.85), (1330, 0.81), (1350, 0.75), (1368, 0.68), (1385, 0.6),
    (1400, 0.52), (1415, 0.44), (1430, 0.37), (1445, 0.31), (1460, 0.26), (1475, 0.22), (1490, 0.18),
    (1505, 0.15), (1520, 0.11), (1540, 0.06), (1560, 0.01), (1580, -0.04), (1600, -0.09), (1620, -0.14),
    (1640, -0.19), (1660, -0.24), (1680, -0.28), (1700, -0.3), (1725, -0.315), (1760, -0.325),
    (1800, -0.33), (1850, -0.335), (1900, -0.338), (1950, -0.34), (2000, -0.34),
    (2030, -0.34), (2036, -0.35), (2042, -0.4), (2048, -0.47), (2055, -0.52), (2061, -0.5), (2066, -0.42),
    (2071, -0.28), (2076, -0.1), (2082, 0.1), (2088, 0.28), (2095, 0.44), (2103, 0.57), (2112, 0.67),
    (2122, 0.74), (2135, 0.8), (2150, 0.84), (2168, 0.866), (2190, 0.88), (2215, 0.887), (2240, 0.888),
    (2265, 0.885), (2290, 0.87), (2310, 0.85), (2330, 0.81), (2350, 0.75), (2368, 0.68), (2385, 0.6),
    (2400, 0.52), (2415, 0.44), (2430, 0.37), (2445, 0.31), (2460, 0.26), (2475, 0.22), (2490, 0.18),
    (2505, 0.15), (2520, 0.11), (2540, 0.06), (2560, 0.01), (2580, -0.04), (2600, -0.09), (2620, -0.14),
    (2640, -0.19), (2660, -0.24), (2680, -0.28), (2700, -0.3), (2725, -0.315), (2760, -0.325),
    (2800, -0.33), (2850, -0.335), (2900, -0.338), (2950, -0.34), (3000, -0.34)]

# ---------------------------------------------------------------- styling
BLUE = "#0000ff"
RED = "#ff0000"
AXIS_GREY = "#8a8a8a"
TICK_TEXT = "#444444"
LABEL_TEXT = "#333333"
SERIF = "Liberation Serif"
LINE_W = 2.2
DOTTED = "2 2"
DASHED = "9 5"

# every panel canvas shares the same side borders so the column keeps them apart;
# each canvas is then shifted into place with its own margin
BORDER_L, BORDER_R = 80, 40
FRAME_W = 379
FIG_W = BORDER_L + FRAME_W + BORDER_R
FIG_H = 480


def xy(pairs):
    xs = np.array([np.nan if p is None else p[0] for p in pairs], dtype=float)
    ys = np.array([np.nan if p is None else p[1] for p in pairs], dtype=float)
    return xs, ys


def make_panel(box, y_lo, y_hi, y_ticks, y_label, letter, letter_x,
               label_size="11.5px", tick_standoff=2, title_standoff=-3):
    left, top, bottom = box
    p = figure(width=FIG_W, height=FIG_H, output_backend="svg", toolbar_location=None,
               x_range=Range1d(0, 3000), y_range=Range1d(y_lo, y_hi), title=letter,
               min_border_left=BORDER_L, min_border_right=BORDER_R,
               min_border_top=top, min_border_bottom=FIG_H - bottom,
               background_fill_color=None, border_fill_color=None, outline_line_color=None)
    p.margin = (0, 0, 0, left - BORDER_L)
    p.grid.visible = False
    p.title.text_font = "Liberation Sans"
    p.title.text_font_size = "19px"
    p.title.text_font_style = "bold"
    p.title.text_color = "#000000"
    p.title.align = "left"
    p.title.offset = letter_x - left
    p.title.standoff = -6
    for ax in (p.xaxis[0], p.yaxis[0]):
        ax.axis_line_color = AXIS_GREY
        ax.major_tick_line_color = AXIS_GREY
        ax.major_tick_in = 4
        ax.major_tick_out = 0
        ax.minor_tick_in = 0
        ax.minor_tick_out = 0
        ax.major_label_text_font = SERIF
        ax.major_label_text_font_size = "10px"
        ax.major_label_text_color = TICK_TEXT
        ax.axis_label_text_font = SERIF
        ax.axis_label_text_font_size = label_size
        ax.axis_label_text_font_style = "normal"
        ax.axis_label_text_color = LABEL_TEXT
        ax.formatter = PrintfTickFormatter(format="%g")
    p.xaxis.ticker = FixedTicker(ticks=TIME_TICKS)
    p.yaxis.ticker = FixedTicker(ticks=y_ticks)
    p.xaxis.axis_label = "Time (ms)"
    p.yaxis.axis_label = y_label
    p.xaxis.major_label_standoff = tick_standoff
    p.yaxis.major_label_standoff = 4
    p.xaxis.axis_label_standoff = title_standoff
    p.yaxis.axis_label_standoff = 3
    return p


def add_legend(p, items, loc, glyph_w, label_w):
    legend = Legend(items=[LegendItem(label=lbl, renderers=[r]) for lbl, r in items],
                    location=loc, glyph_width=glyph_w, glyph_height=10, label_height=10,
                    label_width=label_w, spacing=0, padding=3, label_standoff=3, margin=0,
                    label_text_font=SERIF, label_text_font_size="9px", label_text_color="#222222",
                    border_line_color="#9a9a9a", border_line_width=1,
                    background_fill_color="#ffffff", background_fill_alpha=1.0)
    p.add_layout(legend)


def trace(p, pairs, color, dash="solid"):
    xs, ys = xy(pairs)
    return p.line(xs, ys, line_color=color, line_width=LINE_W, line_dash=dash, line_join="round")


# frame boxes in page pixels: left, top, bottom
BOX_A = (77, 39, 207)
BOX_B = (77, 273, 441)
BOX_C = (503, 39, 207)
BOX_D = (503, 273, 441)
BOX_E = (932, 40, 208)
BOX_F = (932, 274, 442)

# (A)
pa = make_panel(BOX_A, 0, 140, PRESSURE_TICKS, "Pressure (mmHg)", "A", 41)
r1 = trace(pa, lv_pressure, BLUE)
r2 = trace(pa, aortic_pressure, BLUE, DOTTED)
r3 = trace(pa, rv_pressure, RED)
r4 = trace(pa, pulmonary_pressure, RED, DOTTED)
add_legend(pa, [("LV", r1), ("Aortic", r2), ("RV", r3), ("Pulmonary", r4)], (303, 117), 20, 47)

# (B)
pb = make_panel(BOX_B, 0, 1000, FLOW_TICKS, "Flow rate (ml/s)", "B", 42)
r1 = trace(pb, aortic_flow, BLUE)
r2 = trace(pb, mitral_flow, BLUE, DOTTED)
r3 = trace(pb, pulmonary_flow, RED)
r4 = trace(pb, tricuspid_flow, RED, DOTTED)
add_legend(pb, [("Aortic", r1), ("Mitral", r2), ("Pulmonary", r3), ("Tricuspid", r4)], (303, 118), 20, 47)

# (C)
pc = make_panel(BOX_C, 0, 0.035, ENERGY_TICKS, "Kinetic Energy (J)", "C", 456)
r1 = trace(pc, lv_energy, BLUE)
r2 = trace(pc, rv_energy, RED)
add_legend(pc, [("LV", r1), ("RV", r2)], (330, 135), 17, 17)

# (D)
pd = make_panel(BOX_D, 0, 70, VORTICITY_TICKS, "Average vorticity (1/s)", "D", 456)
r1 = trace(pd, lv_vorticity, BLUE)
r2 = trace(pd, rv_vorticity, RED)
add_legend(pd, [("LV", r1), ("RV", r2)], (330, 137), 17, 17)

# (E)
pe = make_panel(BOX_E, -20, 5, TORSION_TICKS, "Torsion (ᵒ)", "E", 900, "12.5px",
                tick_standoff=5, title_standoff=0)
r1 = trace(pe, lv_free_wall, BLUE, DASHED)
r2 = trace(pe, septum, RED, DOTTED)
r3 = trace(pe, rv_free_wall, BLUE)
add_legend(pe, [("LV Free wall", r1), ("Septum", r2), ("RV Free wall", r3)], (297, 14), 23, 52)

# (F)
pf = make_panel(BOX_F, -0.6, 1, APEX_TICKS, "Apex displacement (cm)", "F", 900, "12.5px",
                tick_standoff=4, title_standoff=0)
trace(pf, apex_displacement, BLUE)

# ---------------------------------------------------------------- page
frame_box = Div(text="", width=1348, height=555, margin=(7, 0, 0, 7),
                styles={"border": "1px solid #8c8c8c", "border-bottom": "none",
                        "box-sizing": "border-box"})

# stack every panel canvas on the same origin
panels = [pa, pb, pc, pd, pe, pf]
first_top = -562
for i, p in enumerate(panels):
    top_margin = first_top if i == 0 else -FIG_H
    p.margin = (top_margin, 0, 0, p.margin[3])

caption_html = (
    "<b>FIGURE 6 |</b> Hemodynamic measures from the standard model, namely <b>(A)</b> pressure "
    "waveforms, <b>(B)</b> inlet and outlet flow rates, <b>(C)</b> blood kinetic energy, and <b>(D)</b>"
    "<br>average vorticity. Global mechanical measures of ventricular torsion and apex displacement "
    "are displayed in <b>(E,F)</b>, respectively.")
caption = Div(text=caption_html, width=1320, height=56, margin=(22, 0, 0, 22),
              styles={"font-family": "'Liberation Sans', Arial, sans-serif", "font-size": "18px",
                      "line-height": "25px", "color": "#231f20", "white-space": "nowrap"})

page = column(frame_box, *panels, caption, spacing=0)

with open("out.html", "w") as fh:
    fh.write(file_html(page, INLINE))
